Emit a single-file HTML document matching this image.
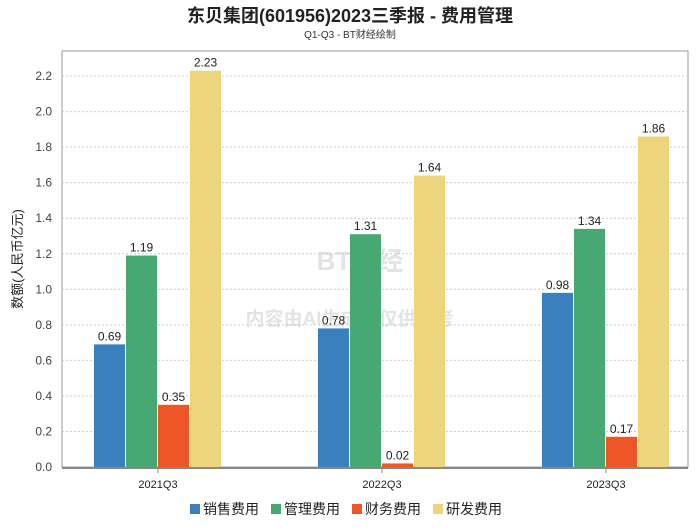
<!DOCTYPE html>
<html><head><meta charset="utf-8"><style>
body{margin:0;background:#fff;font-family:"Liberation Sans","Noto Sans CJK SC",sans-serif}
svg text{font-family:"Liberation Sans","Noto Sans CJK SC",sans-serif}
</style></head><body>
<svg width="700" height="524" xmlns="http://www.w3.org/2000/svg" id="chart">
<text x="350" y="22" text-anchor="middle" font-size="18" font-weight="bold" fill="#222">东贝集团(601956)2023三季报 - 费用管理</text>
<text x="350" y="38" text-anchor="middle" font-size="10" fill="#333">Q1-Q3 - BT财经绘制</text>
<rect x="62" y="51" width="626" height="416" fill="none" stroke="#999"/>
<text x="360" y="270" text-anchor="middle" font-size="26" font-weight="bold" fill="#ddd" opacity="0.8">BT财经</text>
<text x="350" y="325" text-anchor="middle" font-size="19" font-weight="bold" fill="#ddd" opacity="0.8">内容由AI生成，仅供参考</text>
<g id="grid"></g><g id="bars"></g><g id="axes"></g>
<text transform="translate(22,259) rotate(-90)" text-anchor="middle" font-size="13" fill="#222">数额(人民币亿元)</text>
<g id="legend"></g>
</svg>
<script>
const categories=["2021Q3","2022Q3","2023Q3"];
const seriesNames=["销售费用","管理费用","财务费用","研发费用"];
const sales=[0.69,0.78,0.98];
const admin=[1.19,1.31,1.34];
const finance=[0.35,0.02,0.17];
const rnd=[2.23,1.64,1.86];
const yTicks=[0,0.2,0.4,0.6,0.8,1.0,1.2,1.4,1.6,1.8,2.0,2.2];
const colors=["#3a80bf","#46a872","#ee5527","#ecd57a"];
const series=[sales,admin,finance,rnd];
const NS="http://www.w3.org/2000/svg";
function y(v){return 467-v*177.7;}
function xc(i){return 158+i*224;}
function el(t,a,p){const e=document.createElementNS(NS,t);for(const k in a)e.setAttribute(k,a[k]);p.appendChild(e);return e;}
const grid=document.getElementById('grid'),bars=document.getElementById('bars'),axes=document.getElementById('axes'),legend=document.getElementById('legend');
yTicks.forEach(t=>{
  if(t>0){const l=el('line',{x1:62,x2:688,y1:y(t),y2:y(t),stroke:'#ccc','stroke-dasharray':'2,2'},grid);
  
  }
  const tx=el('text',{x:52,y:y(t)+4,'text-anchor':'end','font-size':12,fill:'#444'},axes);tx.textContent=t.toFixed(1);
  
  
});
const ax=el('line',{x1:62,x2:688,y1:468,y2:468,stroke:'#888','stroke-width':2},axes);


categories.forEach((c,i)=>{
  const tk=el('line',{x1:xc(i),x2:xc(i),y1:468,y2:473,stroke:'#888'},axes);
  
  
  const tx=el('text',{x:xc(i),y:488,'text-anchor':'middle','font-size':11,fill:'#222'},axes);tx.textContent=c;
  
  
  series.forEach((s,j)=>{
    const x0=xc(i)-64+j*32;
    const r=el('rect',{x:x0,y:y(s[i]),width:31,height:467-y(s[i]),fill:colors[j]},bars);
    
    
    const lb=el('text',{x:x0+15.5,y:y(s[i])-4,'text-anchor':'middle','font-size':12,fill:'#222'},bars);lb.textContent=s[i].toFixed(2);
    
    
  });
});
let lx=190;
seriesNames.forEach((n,j)=>{
  const r=el('rect',{x:lx,y:504,width:10,height:10,fill:colors[j]},legend);
  
  
  const t=el('text',{x:lx+13,y:514,'font-size':14,fill:'#222'},legend);t.textContent=n;
  
  
  lx+=81;
});
</script>
</body></html>
